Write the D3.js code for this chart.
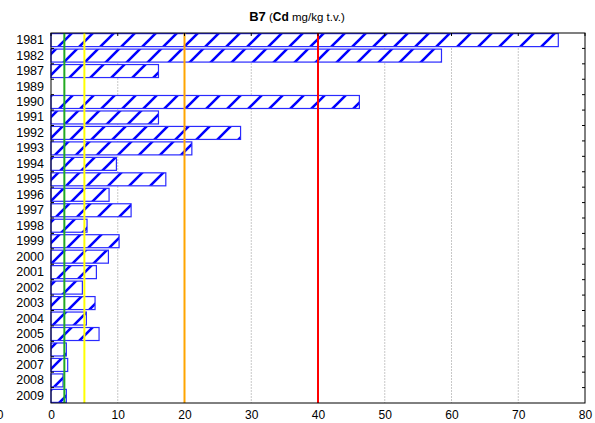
<!DOCTYPE html>
<html><head><meta charset="utf-8">
<script src="https://cdn.jsdelivr.net/npm/d3@7"></script>
<style>body{margin:0;background:#fff}svg{display:block;font-family:"Liberation Sans",Arial,sans-serif}</style>
</head><body>
<svg id="chart" width="595" height="423"></svg>
<script>
const years = ["1981","1982","1987","1989","1990","1991","1992","1993","1994","1995","1996","1997","1998","1999","2000","2001","2002","2003","2004","2005","2006","2007","2008","2009"];
const cdValues = [76.0,58.5,16.1,0,46.2,16.1,28.4,21.1,9.8,17.2,8.7,12.0,5.4,10.2,8.6,6.8,4.7,6.6,5.3,7.2,2.3,2.5,1.8,2.3];
const xTicks = [0,10,20,30,40,50,60,70,80];
const limitValues = [2,5,20,40];
const limitColors = ["#22aa22","#ffff00","#ffa500","#ff0000"];

const svg = d3.select("#chart");
const m = {left:51, right:585, top:33, bottom:403};
const x = d3.scaleLinear().domain([0,80]).range([m.left,m.right]);
const y = d3.scaleBand().domain(years).range([m.top,m.bottom]).paddingInner(0.16).paddingOuter(0.04);

// hatch pattern
const defs = svg.append("defs");
const pat = defs.append("pattern").attr("id","hatch").attr("patternUnits","userSpaceOnUse")
  .attr("width",21).attr("height",21);
pat.append("rect").attr("width",21).attr("height",21).attr("fill","#fff");
pat.append("path").attr("d","M-2,23 L23,-2 M-23,23 L2,-2 M19,23 L44,-2").attr("stroke","#0000ff").attr("stroke-width",2.6);

// grid
svg.append("g").selectAll("line").data(xTicks.filter(d=>d>0&&d<80)).join("line")
  .attr("x1",d=>x(d)).attr("x2",d=>x(d)).attr("y1",m.top).attr("y2",m.bottom)
  .attr("stroke","#c8c8c8").attr("stroke-width",1).attr("stroke-dasharray","2,1");

// bars
svg.append("g").selectAll("rect").data(years.map((yr,i)=>({yr,v:cdValues[i]})).filter(d=>d.v>0)).join("rect")
  .attr("x",x(0)).attr("y",d=>y(d.yr)).attr("width",d=>x(d.v)-x(0)).attr("height",y.bandwidth())
  .attr("fill","url(#hatch)").attr("stroke","#2a2aff").attr("stroke-width",1.2);

// limit lines
svg.append("g").selectAll("line").data(limitValues).join("line")
  .attr("x1",d=>x(d)).attr("x2",d=>x(d)).attr("y1",m.top).attr("y2",m.bottom)
  .attr("stroke",(d,i)=>limitColors[i]).attr("stroke-width",2);

// frame
svg.append("rect").attr("x",m.left).attr("y",m.top).attr("width",m.right-m.left).attr("height",m.bottom-m.top)
  .attr("fill","none").attr("stroke","#000").attr("stroke-width",1);

// top ticks inward
svg.append("g").selectAll("line").data(xTicks).join("line")
  .attr("x1",d=>x(d)).attr("x2",d=>x(d)).attr("y1",m.top).attr("y2",m.top+3).attr("stroke","#000");
// right ticks at band boundaries
const step = (m.bottom-m.top)/years.length;
svg.append("g").selectAll("line").data(d3.range(1,years.length)).join("line")
  .attr("x1",m.right).attr("x2",m.right-3).attr("y1",d=>m.top+d*step).attr("y2",d=>m.top+d*step).attr("stroke","#000");
svg.append("g").selectAll("line").data(d3.range(1,years.length)).join("line")
  .attr("x1",m.left).attr("x2",m.left+3).attr("y1",d=>m.top+d*step).attr("y2",d=>m.top+d*step).attr("stroke","#000");

// y labels
const ya = svg.append("g").attr("transform",`translate(${m.left},0)`)
  .call(d3.axisLeft(y).tickSize(0).tickPadding(7));
ya.select(".domain").remove();
ya.selectAll("text").attr("font-size",12.5).attr("fill","#000").attr("font-family","Liberation Sans, Arial, sans-serif");

// x labels
const xa = svg.append("g").attr("transform",`translate(0,${m.bottom})`)
  .call(d3.axisBottom(x).tickValues(xTicks).tickSize(0).tickPadding(7));
xa.select(".domain").remove();
xa.selectAll("text").attr("font-size",12).attr("fill","#000").attr("font-family","Liberation Sans, Arial, sans-serif");
svg.append("text").attr("x",0).attr("y",m.bottom+7).attr("dy","0.71em").attr("text-anchor","middle")
  .attr("font-size",12).text("0");

// title
const t = svg.append("text").attr("x",297).attr("y",21).attr("text-anchor","middle").attr("font-size",11.5);
t.append("tspan").attr("font-weight","bold").attr("font-size",13).text("B7");
t.append("tspan").text(" (");
t.append("tspan").attr("font-weight","bold").attr("font-size",12).text("Cd");
t.append("tspan").text(" mg/kg t.v.)");
</script>
</body></html>
